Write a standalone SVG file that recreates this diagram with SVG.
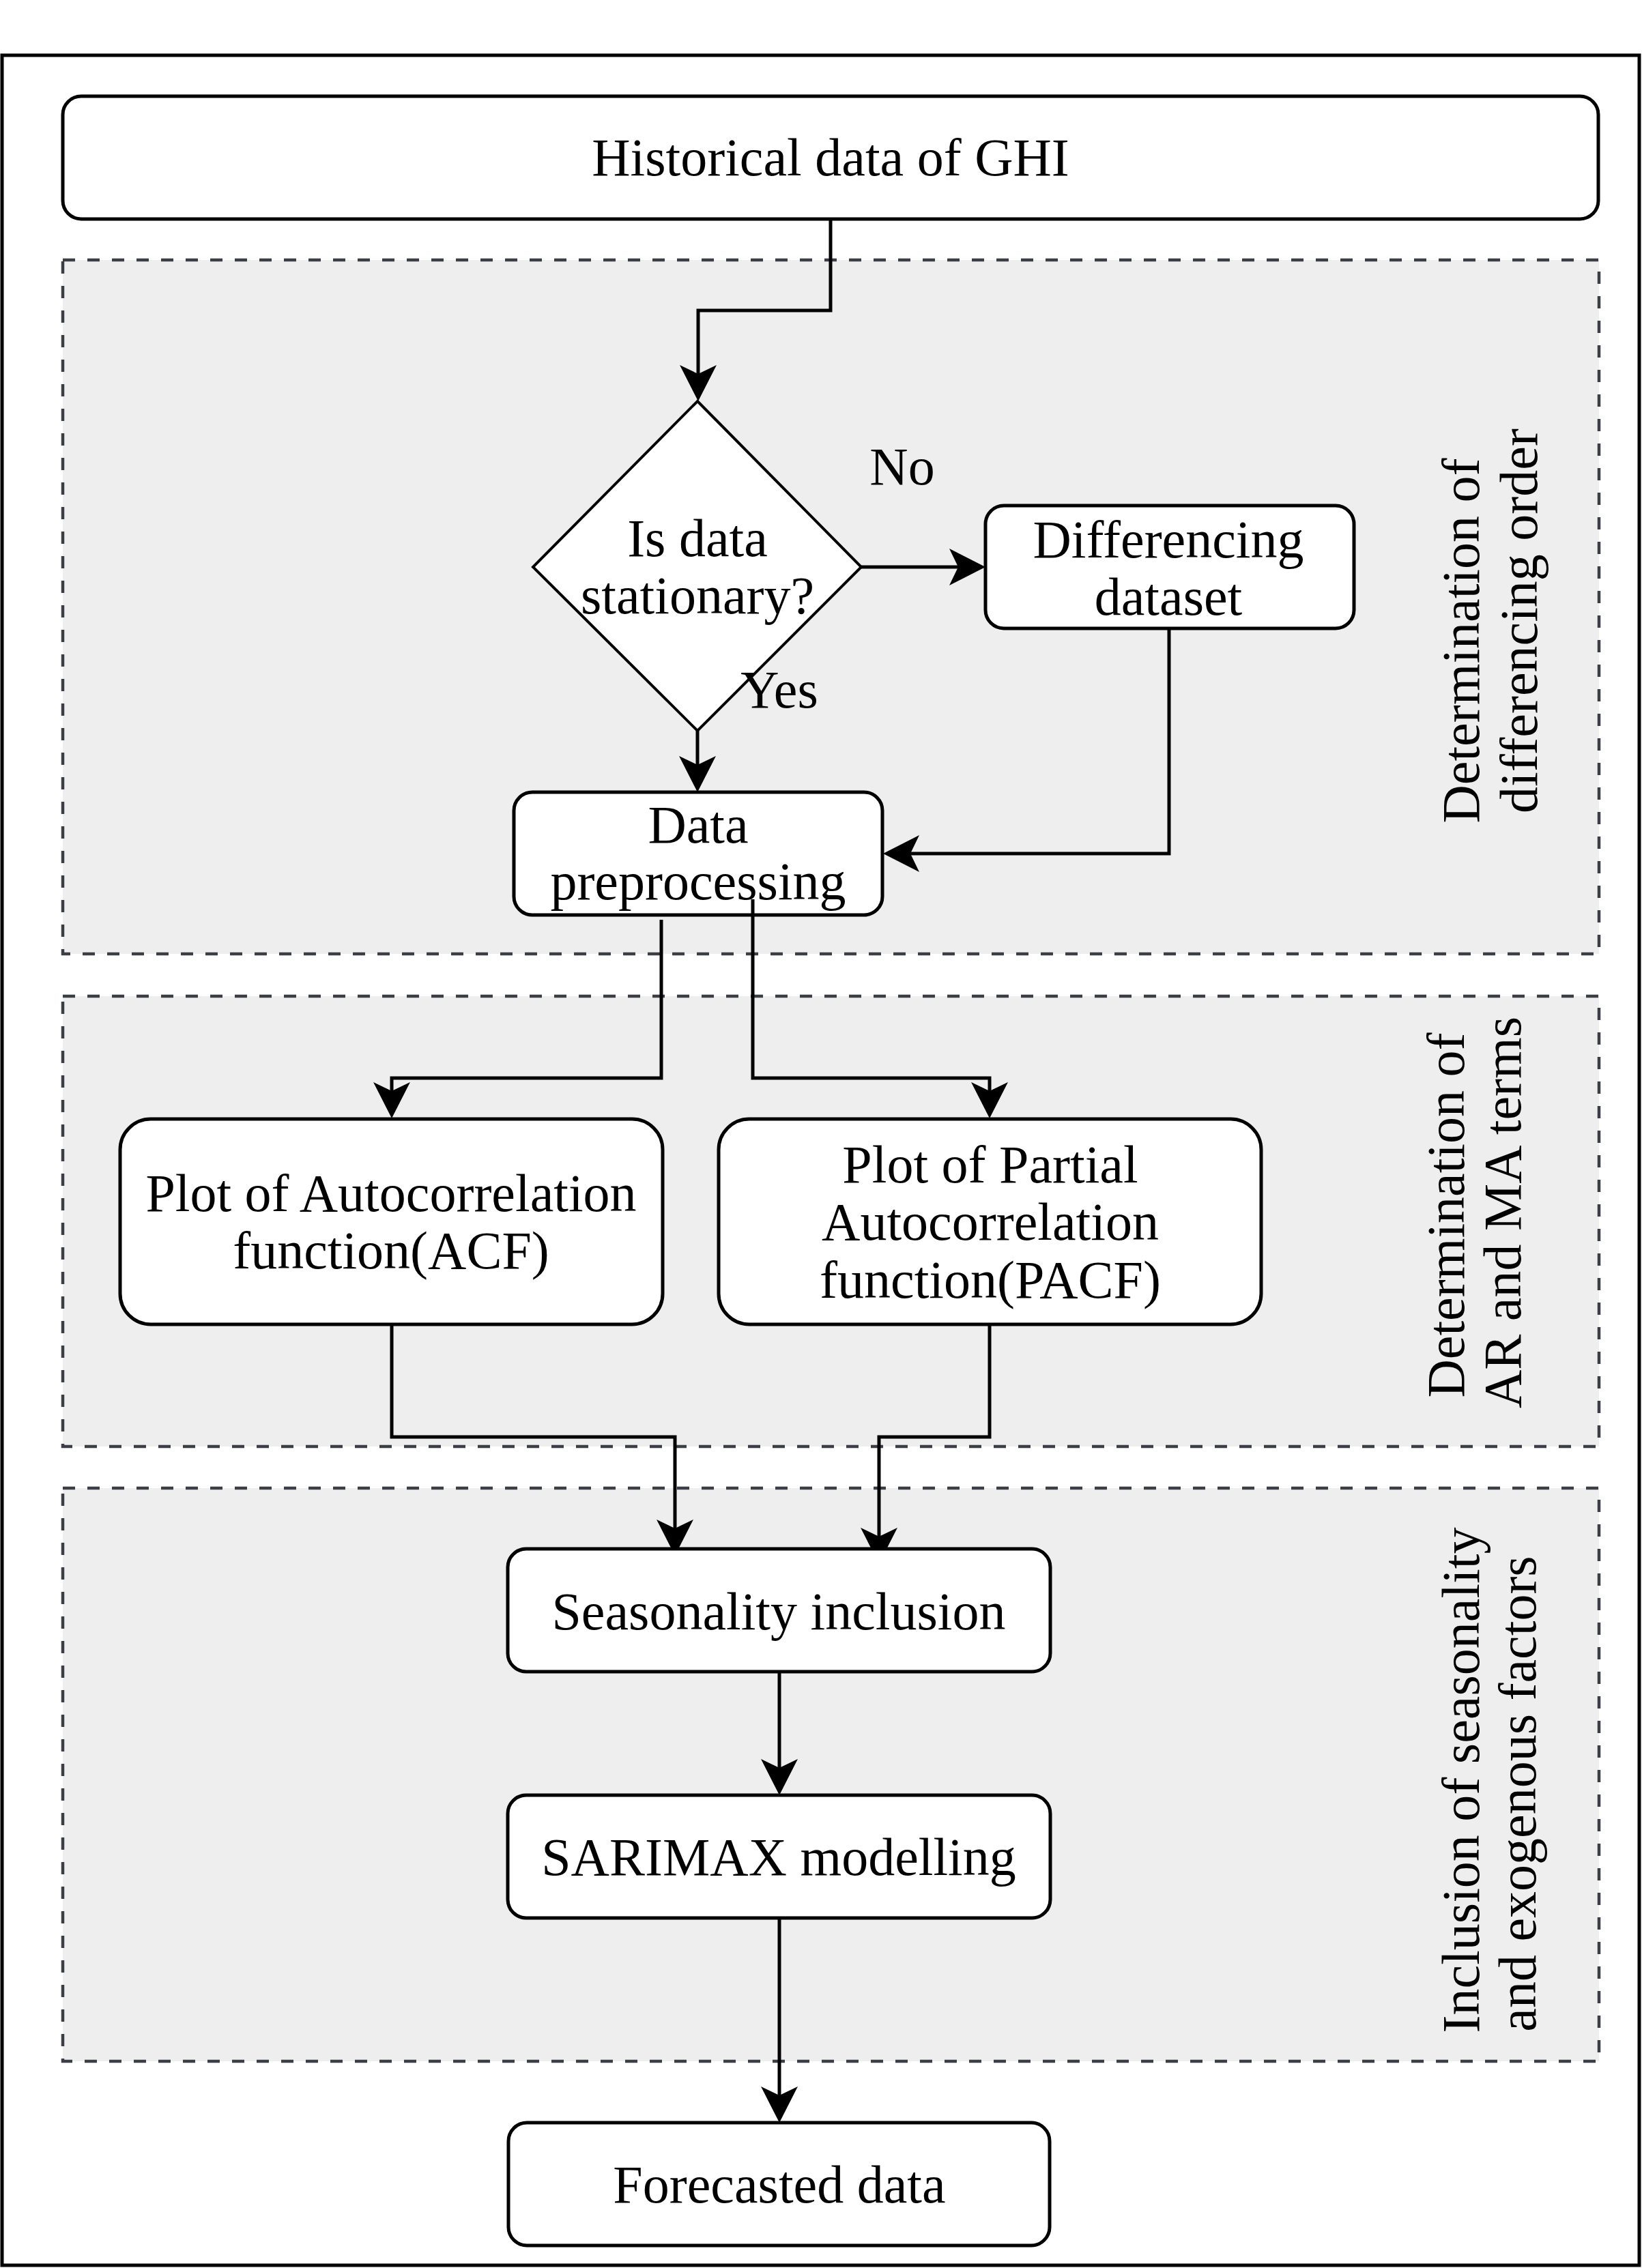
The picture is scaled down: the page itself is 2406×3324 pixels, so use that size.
<svg xmlns="http://www.w3.org/2000/svg" width="2406" height="3324" viewBox="0 0 2406 3324">
<style>
  .container { fill: #eeeeee; stroke: #3b3e44; stroke-width: 4.5; stroke-dasharray: 18 18; }
  .node { fill: #ffffff; stroke: #000000; stroke-width: 5; }
  .diamond { fill: #ffffff; stroke: #000000; stroke-width: 4; }
  .conn { fill: none; stroke: #000000; stroke-width: 5; }
  text { font-family: "Liberation Serif", "Times New Roman", serif; font-size: 78px; fill: #000000; text-anchor: middle; }
</style>
<defs>
  <marker id="arrow" viewBox="0 -28 54 56" markerWidth="54" markerHeight="56" refX="34" refY="0" orient="auto" markerUnits="userSpaceOnUse">
    <path d="M54,0 L1,-27 L14,0 L1,27 Z" fill="#000000"/>
  </marker>
  <clipPath id="clipSeason">
    <rect x="0" y="0" width="2406" height="2268"/>
  </clipPath>
</defs>
<rect x="0" y="0" width="2406" height="3324" fill="#ffffff"/>
<rect id="frame" x="3" y="81" width="2399" height="3239" fill="none" stroke="#000000" stroke-width="5"/>

<g id="group-differencing">
  <rect class="container" x="92" y="381" width="2251" height="1017"/>
  <text transform="translate(2167,939) rotate(-90)">Determination of</text>
  <text transform="translate(2252,910) rotate(-90)">differencing order</text>
</g>
<g id="group-ar-ma">
  <rect class="container" x="92" y="1460" width="2251" height="660"/>
  <text transform="translate(2145,1781) rotate(-90)">Determination of</text>
  <text transform="translate(2228,1777) rotate(-90)">AR and MA terms</text>
</g>
<g id="group-seasonality">
  <rect class="container" x="92" y="2181" width="2251" height="840"/>
  <text transform="translate(2167,2609) rotate(-90)">Inclusion of seasonality</text>
  <text transform="translate(2250,2629) rotate(-90)">and exogenous factors</text>
</g>

<g id="node-historical">
  <rect class="node" x="92" y="141" width="2250" height="180" rx="27" ry="27"/>
  <text x="1217" y="257">Historical data of GHI</text>
</g>
<g id="node-stationary">
  <polygon class="diamond" points="1022,588 1262,831 1022,1071 781,831"/>
  <text x="1022" y="815">Is data</text>
  <text x="1022" y="899">stationary?</text>
</g>
<g id="node-differencing">
  <rect class="node" x="1444" y="741" width="540" height="180" rx="27" ry="27"/>
  <text x="1712" y="817">Differencing</text>
  <text x="1712" y="901">dataset</text>
</g>
<g id="node-preprocessing">
  <rect class="node" x="753" y="1161" width="540" height="180" rx="27" ry="27"/>
  <text x="1023" y="1235">Data</text>
  <text x="1023" y="1318">preprocessing</text>
</g>
<g id="node-acf">
  <rect class="node" x="176" y="1640" width="795" height="301" rx="45" ry="45"/>
  <text x="573" y="1775">Plot of Autocorrelation</text>
  <text x="573" y="1859">function(ACF)</text>
</g>
<g id="node-pacf">
  <rect class="node" x="1053" y="1640" width="795" height="301" rx="45" ry="45"/>
  <text x="1451" y="1733">Plot of Partial</text>
  <text x="1451" y="1817">Autocorrelation</text>
  <text x="1451" y="1902">function(PACF)</text>
</g>
<g id="node-seasonality">
  <rect class="node" x="744" y="2270" width="795" height="180" rx="27" ry="27"/>
  <text x="1141" y="2388">Seasonality inclusion</text>
</g>
<g id="node-sarimax">
  <rect class="node" x="744" y="2631" width="795" height="180" rx="27" ry="27"/>
  <text x="1141" y="2748">SARIMAX modelling</text>
</g>
<g id="node-forecasted">
  <rect class="node" x="745" y="3111" width="793" height="180" rx="27" ry="27"/>
  <text x="1142" y="3228">Forecasted data</text>
</g>

<g id="connectors">
  <path class="conn" d="M1217,321 V455 H1023 V568" marker-end="url(#arrow)"/>
  <path class="conn" d="M1262,831 H1424" marker-end="url(#arrow)"/>
  <path class="conn" d="M1022,1071 V1141" marker-end="url(#arrow)"/>
  <path class="conn" d="M1713,921 V1251 H1314" marker-end="url(#arrow)"/>
  <path class="conn" d="M969,1348 V1580 H574 V1619" marker-end="url(#arrow)"/>
  <path class="conn" d="M1103,1318 V1580 H1450 V1619" marker-end="url(#arrow)"/>
  <path class="conn" d="M574,1941 V2106 H989 V2260" marker-end="url(#arrow)" clip-path="url(#clipSeason)"/>
  <path class="conn" d="M1450,1941 V2106 H1288 V2272" marker-end="url(#arrow)" clip-path="url(#clipSeason)"/>
  <path class="conn" d="M1142,2450 V2611" marker-end="url(#arrow)"/>
  <path class="conn" d="M1142,2811 V3091" marker-end="url(#arrow)"/>
  <text x="1322" y="710">No</text>
  <text x="1142" y="1037">Yes</text>
</g>
</svg>
